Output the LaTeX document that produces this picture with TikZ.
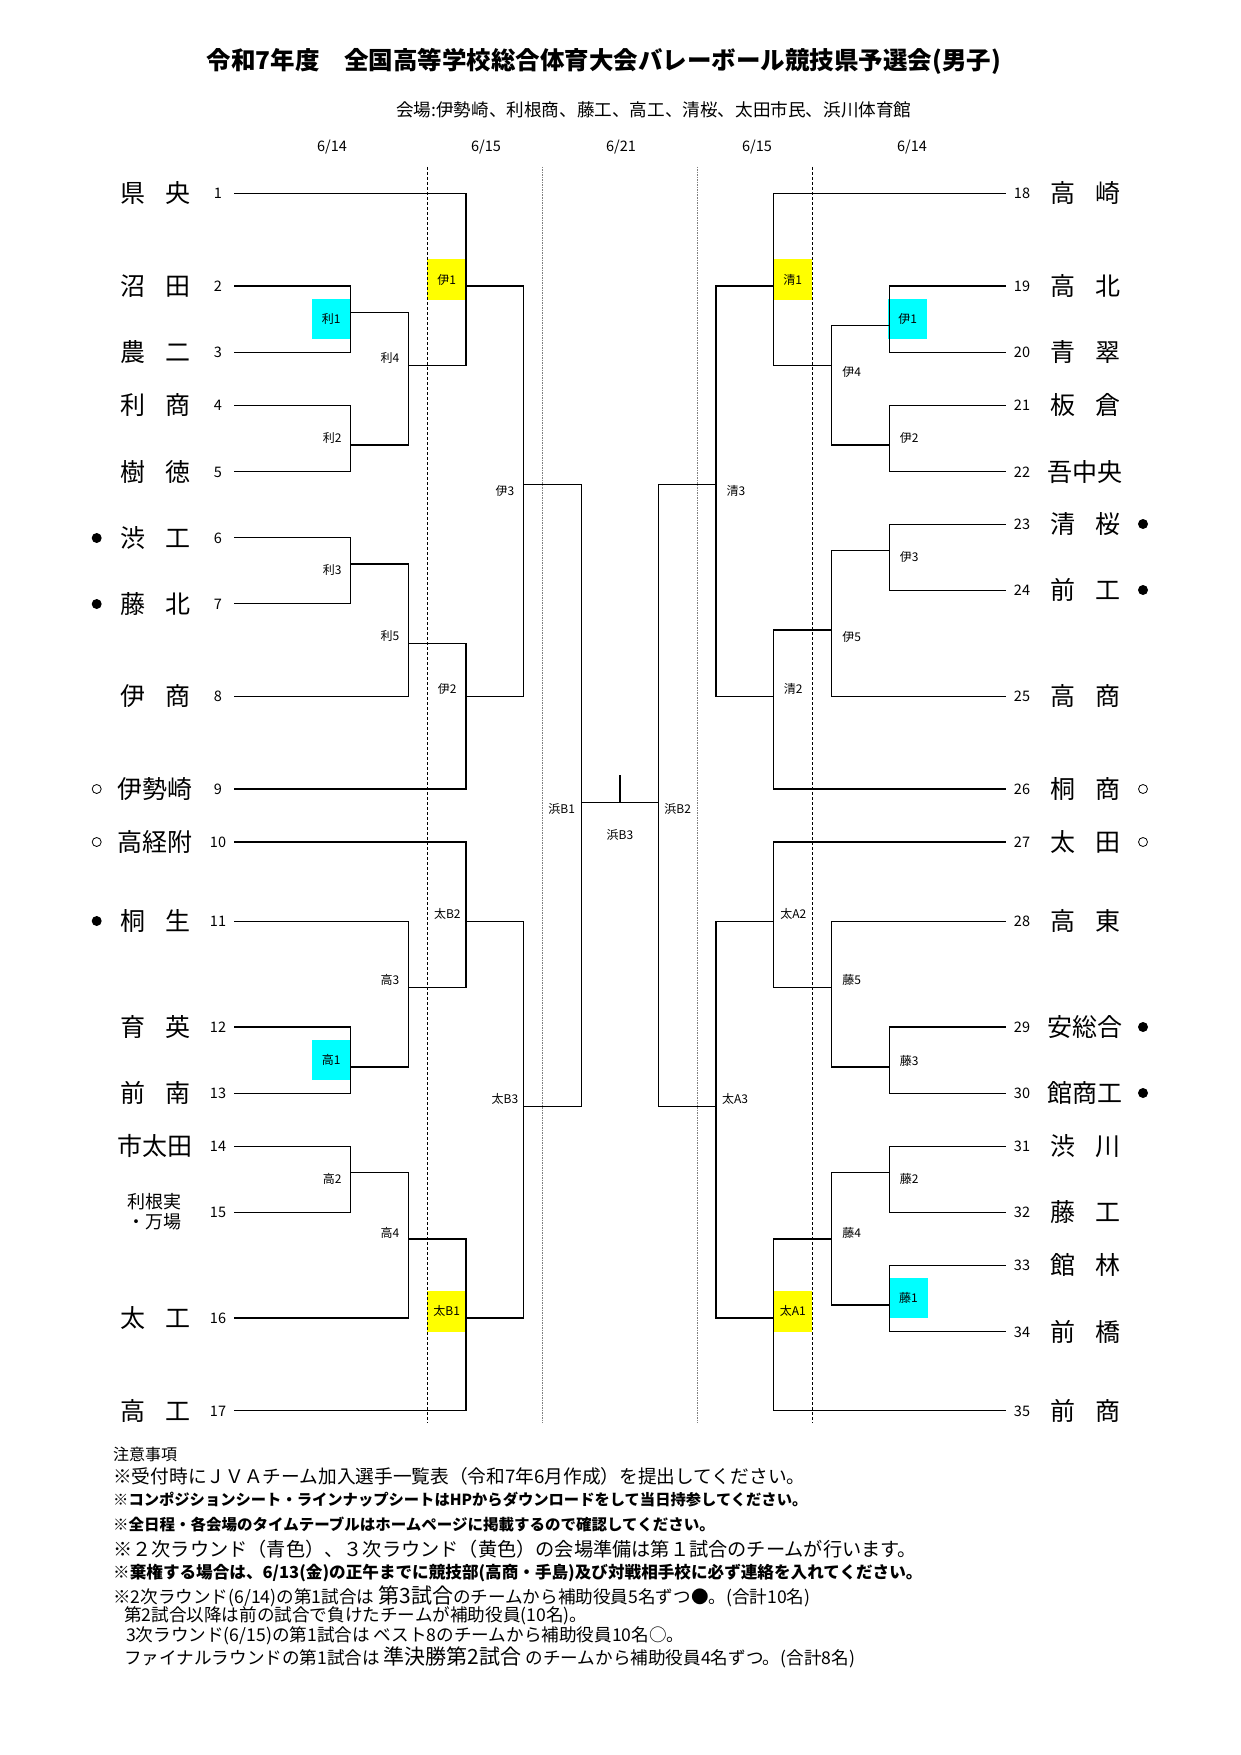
\documentclass[tikz,border=0pt]{standalone}
\usepackage{fontspec}
\setmainfont{Noto Sans CJK JP}
\usetikzlibrary{positioning}
\newcommand{\pair}[2]{#1\hspace{0.8em}#2}
\definecolor{aqua}{RGB}{0,255,255}
\definecolor{lemon}{RGB}{255,255,0}
\tikzstyle{wire} = [line width=1.15pt, line cap=rect]

\begin{document}
\begin{tikzpicture}[x=1pt, y=-1pt,
			team/.style = {font=\fontsize{25}{25}\selectfont, inner sep=0pt},
			seed/.style = {font=\fontsize{14.5}{14.5}\selectfont, inner sep=0pt},
			game/.style = {font=\fontsize{12}{12}\selectfont, inner sep=0pt},
			second/.style = {game, fill=aqua, minimum width=39, minimum height=40},
			third/.style = {game, fill=lemon, minimum width=39, minimum height=41},
			daysep/.style = {densely dashed, line width=1pt},
			roundsep/.style = {gray, densely dotted, line width=1.5pt},
			helper/.style = {circle, fill, inner sep=0pt, minimum size=10},
			best/.style = {circle, draw, line width=0.8pt, inner sep=0pt, minimum size=9},
			note/.style = {anchor=west, inner sep=0pt},
		]
		\useasboundingbox (0,0) rectangle (1240,1755);

		% heading
		\node[font=\fontsize{24.5}{24.5}\selectfont\bfseries] (title) at (604,61) {令和7年度　全国高等学校総合体育大会バレーボール競技県予選会(男子)};
		\node[note, font=\fontsize{17.6}{17.6}\selectfont] (venue) at (396,110) {会場:伊勢崎、利根商、藤工、高工、清桜、太田市民、浜川体育館};
		\node[seed] (d1) at (332,147) {6/14};
		\node[seed] (d2) at (486,147) {6/15};
		\node[seed] (d3) at (621,147) {6/21};
		\node[seed] (d4) at (757,147) {6/15};
		\node[seed] (d5) at (912,147) {6/14};

		% colored games
		\node[second] (ri1) at (331.2,319.2) {利1};
		\node[second] (ta1) at (331.2,1060.2) {高1};
		\node[third] (isL1) at (446.7,279.7) {伊1};
		\node[third] (otB1) at (446.7,1311.3) {太B1};
		\node[second] (isR1) at (907.8,319.2) {伊1};
		\node[second] (fu1) at (908.5,1298.3) {藤1};
		\node[third] (se1) at (792.8,279.7) {清1};
		\node[third] (otA1) at (792.8,1311.3) {太A1};

		% day columns
		\coordinate (c1t) at (427.3,167); \coordinate (c1b) at (427.3,1423);
		\coordinate (c2t) at (542.7,167); \coordinate (c2b) at (542.7,1423);
		\coordinate (c3t) at (697.3,167); \coordinate (c3b) at (697.3,1423);
		\coordinate (c4t) at (812.7,167); \coordinate (c4b) at (812.7,1423);
		\draw[daysep] (c1t) -- (c1b);
		\draw[roundsep] (c2t) -- (c2b);
		\draw[roundsep] (c3t) -- (c3b);
		\draw[daysep] (c4t) -- (c4b);

		% left teams
		\node[team] (n1) at (155,193) {\pair{県}{央}}; \node[seed] (s1) at (218,193) {1}; \coordinate (L1) at (234.3,193.3);
		\node[team] (n2) at (155,286) {\pair{沼}{田}}; \node[seed] (s2) at (218,286) {2}; \coordinate (L2) at (234.3,286);
		\node[team] (n3) at (155,352) {\pair{農}{二}}; \node[seed] (s3) at (218,352) {3}; \coordinate (L3) at (234.3,352.3);
		\node[team] (n4) at (155,405) {\pair{利}{商}}; \node[seed] (s4) at (218,405) {4}; \coordinate (L4) at (234.3,405.3);
		\node[team] (n5) at (155,472) {\pair{樹}{徳}}; \node[seed] (s5) at (218,472) {5}; \coordinate (L5) at (234.3,471.7);
		\node[team] (n6) at (155,538) {\pair{渋}{工}}; \node[seed] (s6) at (218,538) {6}; \coordinate (L6) at (234.3,537.7);
		\node[team] (n7) at (155,604) {\pair{藤}{北}}; \node[seed] (s7) at (218,604) {7}; \coordinate (L7) at (234.3,603.7);
		\node[team] (n8) at (155,696) {\pair{伊}{商}}; \node[seed] (s8) at (218,696) {8}; \coordinate (L8) at (234.3,696.3);
		\node[team] (n9) at (155,789) {伊勢崎}; \node[seed] (s9) at (218,789) {9}; \coordinate (L9) at (234.3,789);
		\node[team] (n10) at (155,842) {高経附}; \node[seed] (s10) at (218,842) {10}; \coordinate (L10) at (234.3,842);
		\node[team] (n11) at (155,921) {\pair{桐}{生}}; \node[seed] (s11) at (218,921) {11}; \coordinate (L11) at (234.3,921.3);
		\node[team] (n12) at (155,1027) {\pair{育}{英}}; \node[seed] (s12) at (218,1027) {12}; \coordinate (L12) at (234.3,1027);
		\node[team] (n13) at (155,1093) {\pair{前}{南}}; \node[seed] (s13) at (218,1093) {13}; \coordinate (L13) at (234.3,1093.3);
		\node[team] (n14) at (155,1146) {市太田}; \node[seed] (s14) at (218,1146) {14}; \coordinate (L14) at (234.3,1146.3);
		\node[team, font=\fontsize{18}{20}\selectfont, align=center] (n15) at (154,1212) {利根実\\・万場}; \node[seed] (s15) at (218,1212) {15}; \coordinate (L15) at (234.3,1212.3);
		\node[team] (n16) at (155,1318) {\pair{太}{工}}; \node[seed] (s16) at (218,1318) {16}; \coordinate (L16) at (234.3,1318);
		\node[team] (n17) at (155,1411) {\pair{高}{工}}; \node[seed] (s17) at (218,1411) {17}; \coordinate (L17) at (234.3,1410.7);

		\node[helper] (m6) at (96.7,538) {};
		\node[helper] (m7) at (96.7,604) {};
		\node[best] (m9) at (96.7,789) {};
		\node[best] (m10) at (96.7,842) {};
		\node[helper] (m11) at (96.7,921) {};

		% right teams
		\node[team] (n18) at (1085,193) {\pair{高}{崎}}; \node[seed] (s18) at (1022,193) {18}; \coordinate (R18) at (1005.7,193.3);
		\node[team] (n19) at (1085,286) {\pair{高}{北}}; \node[seed] (s19) at (1022,286) {19}; \coordinate (R19) at (1005.7,286);
		\node[team] (n20) at (1085,352) {\pair{青}{翠}}; \node[seed] (s20) at (1022,352) {20}; \coordinate (R20) at (1005.7,352.3);
		\node[team] (n21) at (1085,405) {\pair{板}{倉}}; \node[seed] (s21) at (1022,405) {21}; \coordinate (R21) at (1005.7,405.3);
		\node[team] (n22) at (1085,472) {吾中央}; \node[seed] (s22) at (1022,472) {22}; \coordinate (R22) at (1005.7,471.7);
		\node[team] (n23) at (1085,524) {\pair{清}{桜}}; \node[seed] (s23) at (1022,524) {23}; \coordinate (R23) at (1005.7,524.3);
		\node[team] (n24) at (1085,590) {\pair{前}{工}}; \node[seed] (s24) at (1022,590) {24}; \coordinate (R24) at (1005.7,590.3);
		\node[team] (n25) at (1085,696) {\pair{高}{商}}; \node[seed] (s25) at (1022,696) {25}; \coordinate (R25) at (1005.7,696.3);
		\node[team] (n26) at (1085,789) {\pair{桐}{商}}; \node[seed] (s26) at (1022,789) {26}; \coordinate (R26) at (1005.7,789);
		\node[team] (n27) at (1085,842) {\pair{太}{田}}; \node[seed] (s27) at (1022,842) {27}; \coordinate (R27) at (1005.7,842);
		\node[team] (n28) at (1085,921) {\pair{高}{東}}; \node[seed] (s28) at (1022,921) {28}; \coordinate (R28) at (1005.7,921.3);
		\node[team] (n29) at (1085,1027) {安総合}; \node[seed] (s29) at (1022,1027) {29}; \coordinate (R29) at (1005.7,1027);
		\node[team] (n30) at (1085,1093) {館商工}; \node[seed] (s30) at (1022,1093) {30}; \coordinate (R30) at (1005.7,1093.3);
		\node[team] (n31) at (1085,1146) {\pair{渋}{川}}; \node[seed] (s31) at (1022,1146) {31}; \coordinate (R31) at (1005.7,1146.3);
		\node[team] (n32) at (1085,1212) {\pair{藤}{工}}; \node[seed] (s32) at (1022,1212) {32}; \coordinate (R32) at (1005.7,1212.3);
		\node[team] (n33) at (1085,1265) {\pair{館}{林}}; \node[seed] (s33) at (1022,1265) {33}; \coordinate (R33) at (1005.7,1265.3);
		\node[team] (n34) at (1085,1332) {\pair{前}{橋}}; \node[seed] (s34) at (1022,1332) {34}; \coordinate (R34) at (1005.7,1331.7);
		\node[team] (n35) at (1085,1411) {\pair{前}{商}}; \node[seed] (s35) at (1022,1411) {35}; \coordinate (R35) at (1005.7,1410.7);

		\node[helper] (m23) at (1143,524) {};
		\node[helper] (m24) at (1143,590) {};
		\node[best] (m26) at (1143,789) {};
		\node[best] (m27) at (1143,842) {};
		\node[helper] (m29) at (1143,1027) {};
		\node[helper] (m30) at (1143,1093) {};

		% game points (vertical line, winner line)
		\coordinate (ri1p) at (350.7,312.7);
		\coordinate (ri2) at (350.7,445);
		\coordinate (ri3) at (350.7,564);
		\coordinate (ri4) at (408.3,365.7);
		\coordinate (ri5) at (408.3,643.3);
		\coordinate (isL1p) at (466,286);
		\coordinate (isL2) at (466,696.3);
		\coordinate (isL3) at (523.7,484.3);
		\coordinate (ta1p) at (350.7,1067);
		\coordinate (ta2) at (350.7,1172.7);
		\coordinate (ta3) at (408.3,987.3);
		\coordinate (ta4) at (408.3,1239);
		\coordinate (otB1p) at (466,1318);
		\coordinate (otB2) at (466,921.3);
		\coordinate (otB3) at (523.7,1106.7);
		\coordinate (hmB1) at (581.3,802.2);
		\coordinate (hmB2) at (658.7,802.2);
		\coordinate (hmB3) at (620,802.2);
		\coordinate (top) at (620,775.4);
		\coordinate (isR1p) at (889.3,325.7);
		\coordinate (isR2) at (889.3,445);
		\coordinate (isR3) at (889.3,550.7);
		\coordinate (isR4) at (831.7,365.7);
		\coordinate (isR5) at (831.7,630);
		\coordinate (se1p) at (773.3,286);
		\coordinate (se2) at (773.3,696.3);
		\coordinate (se3) at (716,484.3);
		\coordinate (fu1p) at (889.3,1305);
		\coordinate (fu2) at (889.3,1172.7);
		\coordinate (fu3) at (889.3,1067);
		\coordinate (fu4) at (831.7,1239);
		\coordinate (fu5) at (831.7,987.3);
		\coordinate (otA1p) at (773.3,1318);
		\coordinate (otA2) at (773.3,921.3);
		\coordinate (otA3) at (716,1106.7);

		% left half
		\draw[wire] (L2) -| (ri1p) |- (L3);
		\draw[wire] (L4) -| (ri2) |- (L5);
		\draw[wire] (L6) -| (ri3) |- (L7);
		\draw[wire] (ri1p) -| (ri4) |- (ri2);
		\draw[wire] (ri3) -| (ri5) |- (L8);
		\draw[wire] (L1) -| (isL1p) |- (ri4);
		\draw[wire] (ri5) -| (isL2) |- (L9);
		\draw[wire] (isL1p) -| (isL3) |- (isL2);
		\draw[wire] (L12) -| (ta1p) |- (L13);
		\draw[wire] (L11) -| (ta3) |- (ta1p);
		\draw[wire] (L10) -| (otB2) |- (ta3);
		\draw[wire] (L14) -| (ta2) |- (L15);
		\draw[wire] (ta2) -| (ta4) |- (L16);
		\draw[wire] (ta4) -| (otB1p) |- (L17);
		\draw[wire] (otB2) -| (otB3) |- (otB1p);
		\draw[wire] (isL3) -| (hmB1) |- (otB3);

		% right half
		\draw[wire] (R19) -| (isR1p) |- (R20);
		\draw[wire] (R21) -| (isR2) |- (R22);
		\draw[wire] (isR1p) -| (isR4) |- (isR2);
		\draw[wire] (R18) -| (se1p) |- (isR4);
		\draw[wire] (R23) -| (isR3) |- (R24);
		\draw[wire] (isR3) -| (isR5) |- (R25);
		\draw[wire] (isR5) -| (se2) |- (R26);
		\draw[wire] (se1p) -| (se3) |- (se2);
		\draw[wire] (R29) -| (fu3) |- (R30);
		\draw[wire] (R28) -| (fu5) |- (fu3);
		\draw[wire] (R27) -| (otA2) |- (fu5);
		\draw[wire] (R31) -| (fu2) |- (R32);
		\draw[wire] (R33) -| (fu1p) |- (R34);
		\draw[wire] (fu2) -| (fu4) |- (fu1p);
		\draw[wire] (fu4) -| (otA1p) |- (R35);
		\draw[wire] (otA2) -| (otA3) |- (otA1p);
		\draw[wire] (se3) -| (hmB2) |- (otA3);

		% final
		\draw[wire] (hmB1) -- (hmB2);
		\draw[wire] (hmB3) -- (top);

		% game labels
		\node[game] (g1) at (332.3,437.7) {利2};
		\node[game] (g2) at (332.3,570) {利3};
		\node[game] (g3) at (390,358.3) {利4};
		\node[game] (g4) at (390,636) {利5};
		\node[game] (g5) at (447.3,689.3) {伊2};
		\node[game] (g6) at (505,491) {伊3};
		\node[game] (g7) at (332.3,1179.3) {高2};
		\node[game] (g8) at (390,980) {高3};
		\node[game] (g9) at (390,1232.7) {高4};
		\node[game] (g10) at (447.3,914.3) {太B2};
		\node[game] (g11) at (505,1098.7) {太B3};
		\node[game] (g12) at (561.7,808.5) {浜B1};
		\node[game] (g13) at (620,834.8) {浜B3};
		\node[game] (g14) at (677.7,808.5) {浜B2};
		\node[game] (g15) at (851.7,372.3) {伊4};
		\node[game] (g16) at (909.3,438.3) {伊2};
		\node[game] (g17) at (736,491) {清3};
		\node[game] (g18) at (909.3,556.7) {伊3};
		\node[game] (g19) at (851.7,636.7) {伊5};
		\node[game] (g20) at (793.3,689.3) {清2};
		\node[game] (g21) at (793.3,914.3) {太A2};
		\node[game] (g22) at (851.7,980) {藤5};
		\node[game] (g23) at (909.3,1060.7) {藤3};
		\node[game] (g24) at (735,1099.3) {太A3};
		\node[game] (g25) at (909.3,1179.3) {藤2};
		\node[game] (g26) at (851.7,1232.7) {藤4};

		% notes
		\node[note, font=\fontsize{16}{16}\selectfont] (t0) at (113,1454) {注意事項};
		\node[note, font=\fontsize{18.7}{18.7}\selectfont] (t1) at (113,1476) {※受付時にＪＶＡチーム加入選手一覧表（令和7年6月作成）を提出してください。};
		\node[note, font=\fontsize{15.3}{15.3}\selectfont\bfseries] (t2) at (113,1500) {※コンポジションシート・ラインナップシートはHPからダウンロードをして当日持参してください。};
		\node[note, font=\fontsize{15.5}{15.5}\selectfont\bfseries] (t3) at (113,1524) {※全日程・各会場のタイムテーブルはホームページに掲載するので確認してください。};
		\node[note, font=\fontsize{19.2}{19.2}\selectfont] (t4) at (113,1549) {※２次ラウンド（青色）、３次ラウンド（黄色）の会場準備は第１試合のチームが行います。};
		\node[note, font=\fontsize{16.6}{16.6}\selectfont\bfseries] (t5) at (113,1573) {※棄権する場合は、6/13(金)の正午までに競技部(高商・手島)及び対戦相手校に必ず連絡を入れてください。};
		\node[note, font=\fontsize{17.6}{17.6}\selectfont] (t6) at (113,1596) {※2次ラウンド(6/14)の第1試合は {\fontsize{21}{21}\selectfont 第3試合}のチームから補助役員5名ずつ●。(合計10名)};
		\node[note, font=\fontsize{17.6}{17.6}\selectfont] (t7) at (124,1616) {第2試合以降は前の試合で負けたチームが補助役員(10名)。};
		\node[note, font=\fontsize{17.6}{17.6}\selectfont] (t8) at (126,1636) {3次ラウンド(6/15)の第1試合は ベスト8のチームから補助役員10名○。};
		\node[note, font=\fontsize{17.6}{17.6}\selectfont] (t9) at (124,1657) {ファイナルラウンドの第1試合は {\fontsize{21}{21}\selectfont 準決勝第2試合} のチームから補助役員4名ずつ。(合計8名)};

	\end{tikzpicture}
\end{document}
